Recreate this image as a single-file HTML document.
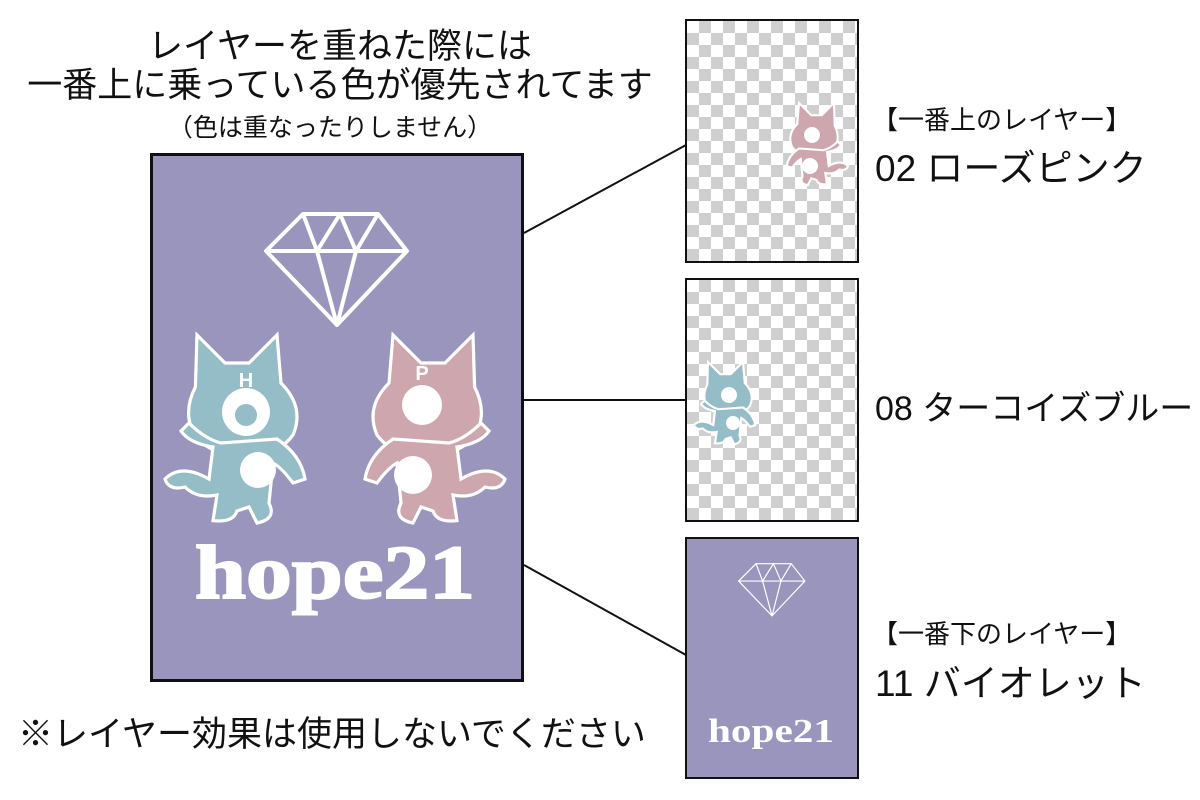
<!DOCTYPE html>
<html><head><meta charset="utf-8"><style>
body{margin:0;width:1200px;height:800px;background:#fff;overflow:hidden;position:relative;font-family:"Liberation Sans","Noto Sans CJK JP",sans-serif;color:#111}
.t{position:absolute;white-space:nowrap}
.chk{position:absolute;border:2px solid #111;box-sizing:border-box;background-color:#fff;
background-image:linear-gradient(45deg,#cfcfcf 25%,transparent 25%,transparent 75%,#cfcfcf 75%),linear-gradient(45deg,#cfcfcf 25%,transparent 25%,transparent 75%,#cfcfcf 75%);
background-size:24px 24px;background-position:0 0,12px 12px}
</style></head><body>
<div class="t" style="left:0;width:680px;text-align:center;top:18px;font-size:35px">レイヤーを重ねた際には</div>
<div class="t" style="left:0;width:680px;text-align:center;top:57px;font-size:35px">一番上に乗っている色が優先されてます</div>
<div class="t" style="left:0;width:660px;text-align:center;top:108px;font-size:25px">（色は重なったりしません）</div>
<div class="t" style="left:18px;top:706px;font-size:35px">※レイヤー効果は使用しないでください</div>

<svg width="1200" height="800" style="position:absolute;left:0;top:0">
<defs>
<g id="cat">
 <path d="M-45,-100 L-40,-160 L-5,-125 L25,-125 L60,-160 L62,-95 Q80,-60 60,-30 Q30,-5 0,-8 Q-40,-8 -60,-35 Q-75,-70 -45,-100Z"/>
 <path d="M-40,-30 Q-70,-10 -75,20 L-60,25 Q-45,5 -35,0 L-30,50 Q-40,70 -15,75 L-5,55 L10,60 Q15,75 40,72 L35,40 Q60,45 75,30 Q95,35 100,20 Q80,0 45,20 L40,-20 Q70,-25 80,-40 L70,-50 Q50,-30 30,-25Z"/>
</g>
</defs>
<rect x="151.5" y="154.5" width="371" height="526" fill="#9a95bd" stroke="#111" stroke-width="3"/>
<g fill="none" stroke="#fff" stroke-width="4" stroke-linejoin="round">
<polygon points="303,214 378,214 407,251 337,325 266,251"/>
<polyline points="266,251 407,251"/>
<polyline points="303,214 317,251 337,325 356,251 378,214"/>
<polyline points="317,251 340,214 356,251"/>
</g>
<g transform="translate(245,463) scale(0.8)" fill="#94bdc7" stroke="#fff" stroke-width="4"><use href="#cat" transform="scale(-1,1)"/></g>
<circle cx="246" cy="412" r="24" fill="#fff"/><circle cx="246" cy="415" r="11" fill="#94bdc7"/>
<circle cx="258" cy="470" r="18" fill="#fff"/><text x="246" y="387" font-size="20" font-weight="bold" fill="#fff" text-anchor="middle" font-family="Liberation Sans">H</text>
<g transform="translate(425,463) scale(0.8)" fill="#cda6ae" stroke="#fff" stroke-width="4"><use href="#cat"/></g>
<circle cx="422" cy="405" r="20" fill="#fff"/><circle cx="413" cy="475" r="19" fill="#fff"/>
<text x="422" y="380" font-size="20" font-weight="bold" fill="#fff" text-anchor="middle" font-family="Liberation Sans">P</text>
<text x="195" y="598" font-size="76" font-weight="bold" fill="#fff" stroke="#fff" stroke-width="2" textLength="280" lengthAdjust="spacingAndGlyphs" font-family="Liberation Serif">hope21</text>

<line x1="524" y1="233" x2="686" y2="145" stroke="#111" stroke-width="2"/>
<line x1="524" y1="400" x2="686" y2="400" stroke="#111" stroke-width="2"/>
<line x1="524" y1="565" x2="686" y2="655" stroke="#111" stroke-width="2"/>
</svg>

<div class="chk" style="left:685px;top:19px;width:174px;height:244px"></div>
<div class="chk" style="left:685px;top:278px;width:174px;height:244px"></div>
<svg width="1200" height="800" style="position:absolute;left:0;top:0">
<g transform="translate(813,159) scale(0.35)" fill="#cda6ae" stroke="#fff" stroke-width="6"><use href="#cat"/></g>
<circle cx="812" cy="135" r="8" fill="#fff"/><circle cx="810" cy="166" r="8" fill="#fff"/>
<g transform="translate(729,418) scale(0.35)" fill="#94bdc7" stroke="#fff" stroke-width="6"><use href="#cat" transform="scale(-1,1)"/></g>
<circle cx="729" cy="395" r="8" fill="#fff"/><circle cx="733" cy="423" r="7" fill="#fff"/>
<rect x="686" y="538" width="172" height="240" fill="#9a95bd" stroke="#111" stroke-width="2"/>
<g fill="none" stroke="#fff" stroke-width="2.5" stroke-linejoin="round" transform="translate(772,590) scale(0.47) translate(-337,-270)">
<polygon points="303,214 378,214 407,251 337,325 266,251"/>
<polyline points="266,251 407,251"/>
<polyline points="303,214 317,251 337,325 356,251 378,214"/>
<polyline points="317,251 340,214 356,251"/>
</g>
<text x="708" y="742" font-size="34" font-weight="bold" fill="#fff" textLength="126" lengthAdjust="spacingAndGlyphs" font-family="Liberation Serif">hope21</text>
</svg>

<div class="t" style="left:872px;top:100px;font-size:26px">【一番上のレイヤー】</div>
<div class="t" style="left:875px;top:138px;font-size:37px">02 ローズピンク</div>
<div class="t" style="left:875px;top:381px;font-size:34px">08 ターコイズブルー</div>
<div class="t" style="left:872px;top:614px;font-size:26px">【一番下のレイヤー】</div>
<div class="t" style="left:875px;top:653px;font-size:37px">11 バイオレット</div>
</body></html>
